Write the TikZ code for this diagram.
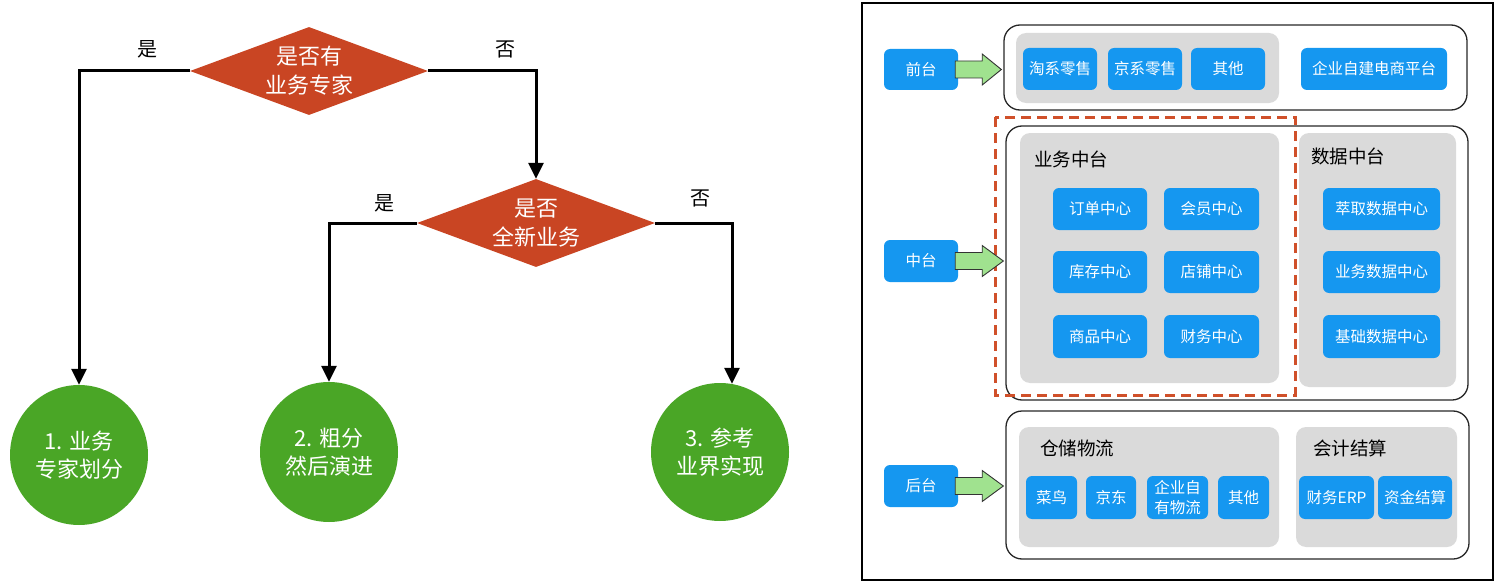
\documentclass[tikz,border=0pt]{standalone}
\usepackage{fontspec}
\setmainfont{Noto Sans CJK SC}
\usetikzlibrary{shapes.geometric,arrows.meta,calc}
\definecolor{dred}{HTML}{C94523}
\definecolor{cgreen}{HTML}{4AA626}
\definecolor{bblue}{HTML}{1597F0}
\definecolor{ggray}{HTML}{DADADA}
\definecolor{lgreen}{HTML}{A0E28F}
\definecolor{dashred}{HTML}{D0502A}
\tikzset{
  dec/.style={diamond, fill=dred, text=white, inner sep=0pt, aspect=2.7,
    minimum width=238pt, minimum height=88pt, align=center,
    font=\fontsize{22}{29}\selectfont},
  res/.style={ellipse, fill=cgreen, text=white, inner sep=0pt,
    minimum width=138pt, minimum height=140pt, align=center,
    font=\fontsize{22}{28}\selectfont},
  flow/.style={line width=3pt, -{Triangle[length=16pt,width=15pt]}},
  lab/.style={font=\fontsize{20}{24}\selectfont},
  bluebox/.style={rectangle, fill=bblue, text=white, rounded corners=6pt,
    inner sep=0pt, align=center, font=\fontsize{15.5}{20}\selectfont},
  grpbox/.style={rectangle, fill=ggray, rounded corners=10pt, inner sep=0pt},
  contbox/.style={rectangle, draw=black!85, line width=1.3pt, rounded corners=16pt, inner sep=0pt},
  grplab/.style={font=\fontsize{18.5}{24}\selectfont},
  garr/.style={fill=lgreen, draw=black!80, line width=0.9pt},
}
\newcommand\bx[7]{\node[#1, minimum width={#5-#3}, minimum height={#6-#4}] (#2) at ({(#3+#5)/2},{(#4+#6)/2}) {#7};}
\begin{document}
\begin{tikzpicture}[x=1pt,y=-1pt]
\useasboundingbox (0,0) rectangle (1500,586);
% ---------- left flowchart ----------
\node[dec] (d1) at (309,71) {是否有\\业务专家};
\node[dec] (d2) at (536,223) {是否\\全新业务};
\node[res] (c1) at (79,455) {1. 业务\\专家划分};
\node[res] (c2) at (329,452) {2. 粗分\\然后演进};
\node[res, minimum height=138pt] (c3) at (720,452) {3. 参考\\业界实现};
\coordinate (c3t) at ($(c3.north)+(12,1)$);
\draw[flow] (d1.west) -| (c1.north);
\draw[flow] (d1.east) -| (d2.north);
\draw[flow] (d2.west) -| (c2.north);
\draw[flow] (d2.east) -| (c3t);
\node[lab] (l1) at (147,49) {是};
\node[lab] (l2) at (505,49) {否};
\node[lab] (l3) at (384,203) {是};
\node[lab] (l4) at (700,198) {否};
% ---------- right architecture ----------
\draw[line width=2pt] (862,3) rectangle (1493,580);
% containers
\bx{contbox}{kf}{1004}{25}{1467}{110}{}
\bx{contbox}{km}{1006}{126}{1468}{400}{}
\bx{contbox}{kb}{1006}{411}{1469}{559}{}
% gray groups
\bx{grpbox}{g1}{1016}{33}{1279}{103}{}
\bx{grpbox}{g2}{1020}{133}{1279}{383}{}
\bx{grpbox}{g3}{1299}{133}{1456}{387}{}
\bx{grpbox}{g4}{1019}{427}{1279}{547}{}
\bx{grpbox}{g5}{1296}{427}{1457}{547}{}
\node[grplab] (t2) at (1071,159) {业务中台};
\node[grplab] (t3) at (1348,156) {数据中台};
\node[grplab] (t4) at (1077,448) {仓储物流};
\node[grplab] (t5) at (1350,448) {会计结算};
% dashed highlight
\draw[dashred, line width=3pt, dash pattern=on 10pt off 6pt] (995,117) rectangle (1295,395);
% blue boxes
\bx{bluebox}{qt}{884}{49}{958}{90}{前台}
\bx{bluebox}{zt}{884}{240}{958}{282}{中台}
\bx{bluebox}{ht}{884}{465}{958}{507}{后台}
\bx{bluebox}{b1}{1023}{48}{1097}{90}{淘系零售}
\bx{bluebox}{b2}{1108}{48}{1182}{90}{京系零售}
\bx{bluebox}{b3}{1191}{48}{1265}{90}{其他}
\bx{bluebox}{b4}{1301}{48}{1447}{90}{企业自建电商平台}
\bx{bluebox}{m1}{1053}{188}{1147}{230}{订单中心}
\bx{bluebox}{m2}{1164}{188}{1259}{230}{会员中心}
\bx{bluebox}{m3}{1053}{251}{1147}{293}{库存中心}
\bx{bluebox}{m4}{1164}{251}{1259}{293}{店铺中心}
\bx{bluebox}{m5}{1053}{315}{1147}{358}{商品中心}
\bx{bluebox}{m6}{1164}{315}{1259}{358}{财务中心}
\bx{bluebox}{s1}{1323}{188}{1440}{230}{萃取数据中心}
\bx{bluebox}{s2}{1323}{251}{1440}{293}{业务数据中心}
\bx{bluebox}{s3}{1323}{315}{1440}{358}{基础数据中心}
\bx{bluebox}{w1}{1026}{476}{1077}{519}{菜鸟}
\bx{bluebox}{w2}{1086}{476}{1136}{519}{京东}
\bx{bluebox}{w3}{1147}{476}{1208}{519}{企业自\\有物流}
\bx{bluebox}{w4}{1218}{476}{1269}{519}{其他}
\bx{bluebox}{a1}{1299}{476}{1374}{519}{财务ERP}
\bx{bluebox}{a2}{1378}{476}{1452}{519}{资金结算}
% green arrows
\foreach \s/\t in {qt/kf, zt/km, ht/kb}{
  \draw[garr] ($(\s.east)+(-3,-8.5)$) -- ++(27,0) -- ++(0,-7)
    -- ($(\s.east -| \t.west)+(-2,0)$)
    -- ($(\s.east)+(24,15.5)$) -- ++(0,-7) -- ++(-27,0) -- cycle;
}
\end{tikzpicture}
\end{document}
